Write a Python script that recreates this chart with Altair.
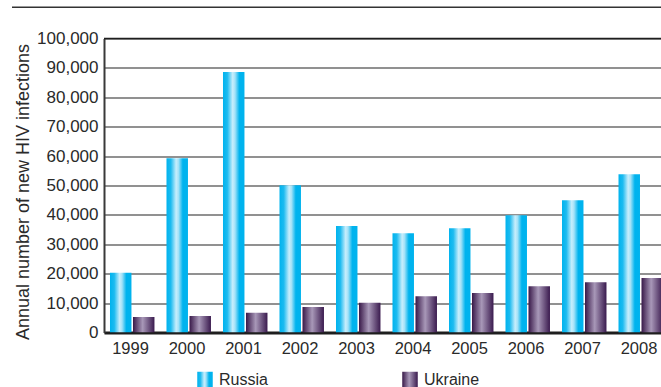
import altair as alt
import pandas as pd

years = [1999, 2000, 2001, 2002, 2003, 2004, 2005, 2006, 2007, 2008]
russia = [20300, 59300, 88600, 50100, 36200, 33800, 35500, 39900, 45000, 53800]
ukraine = [5300, 5600, 6700, 8700, 10100, 12300, 13400, 15700, 17100, 18500]
countries = ["Russia", "Ukraine"]
y_ticks = list(range(0, 100001, 10000))

rows = []
for i, yr in enumerate(years):
    rows.append({"year": yr, "country": "Russia", "value": russia[i]})
    rows.append({"year": yr, "country": "Ukraine", "value": ukraine[i]})
df = pd.DataFrame(rows)

FONT = "Liberation Sans"
TXT = "#2a2a2a"

russia_grad = ("{gradient: 'linear', x1: 0, y1: 0, x2: 1, y2: 0, stops: ["
               "{offset: 0, color: '#00b3ee'}, {offset: 0.2, color: '#1cbbf0'}, "
               "{offset: 0.45, color: '#c8eefc'}, {offset: 0.56, color: '#a4e2f8'}, "
               "{offset: 0.76, color: '#00b3ee'}, {offset: 1, color: '#00b3ee'}]}")
ukraine_grad = ("{gradient: 'linear', x1: 0, y1: 0, x2: 1, y2: 0, stops: ["
                "{offset: 0, color: '#381848'}, {offset: 0.45, color: '#a898b8'}, "
                "{offset: 1, color: '#3a1a4e'}]}")

W, H = 557, 294

yscale = alt.Scale(domain=[0, 100000], nice=False)
yaxis = alt.Axis(values=y_ticks, format=",.0f",
                 title="Annual number of new HIV infections",
                 titleFontSize=18, titleFontWeight="normal",
                 titlePadding=4, titleY=153,
                 grid=True, gridColor="#6c6c6c", gridWidth=1.5,
                 ticks=False, labelPadding=6, labelFontSize=17,
                 labelOverlap=False, labelFlush=False,
                 domainColor="#3a3a3a", domainWidth=2)

bars = alt.Chart(df).transform_calculate(
    x0="datum.country == 'Russia' ? datum.year - 0.354 : datum.year + 0.053"
).transform_calculate(
    x1="datum.x0 + 0.38"
).mark_bar(clip=True, strokeWidth=0).encode(
    x=alt.X("x0:Q",
            scale=alt.Scale(domain=[1998.54, 2008.398], nice=False, zero=False),
            axis=alt.Axis(values=years, format="d", title=None, grid=False,
                          ticks=False, labelOverlap=False, labelFlush=False,
                          labelPadding=8, labelFontSize=16.5,
                          domainColor="#1e1e1e", domainWidth=3)),
    x2="x1:Q",
    y=alt.Y("value:Q", scale=yscale, axis=yaxis),
    y2=alt.datum(0),
    color=alt.Color("country:N",
                    scale=alt.Scale(domain=countries,
                                    range=[alt.ExprRef(russia_grad), alt.ExprRef(ukraine_grad)]),
                    legend=alt.Legend(title=None, orient="none", direction="horizontal",
                                      legendX=93, legendY=333, padding=0,
                                      symbolType="square", symbolSize=240,
                                      symbolStrokeWidth=0, labelFontSize=16,
                                      labelOffset=6, columnPadding=134,
                                      labelFont=FONT, labelColor=TXT)),
)

top_frame = alt.Chart(pd.DataFrame({"value": [100000]})).mark_rule(
    color="#1e1e1e", strokeWidth=1.5
).encode(y=alt.Y("value:Q", scale=yscale, axis=yaxis))

deco = alt.Chart(pd.DataFrame({"v": [0]})).mark_rule(
    color="#333333", strokeWidth=1.5
).encode(x=alt.value(-92), x2=alt.value(W), y=alt.value(-31.3))

chart = alt.layer(bars, top_frame, deco).properties(
    width=W, height=H,
    autosize=alt.AutoSizeParams(type="none"),
    padding={"left": 104, "top": 38.5, "right": 0, "bottom": 54.5},
    background="white",
).configure_view(stroke=None).configure_axis(
    labelFont=FONT, titleFont=FONT, labelColor=TXT, titleColor=TXT
)

chart.save("out.html", embed_options={"renderer": "svg", "actions": False})
